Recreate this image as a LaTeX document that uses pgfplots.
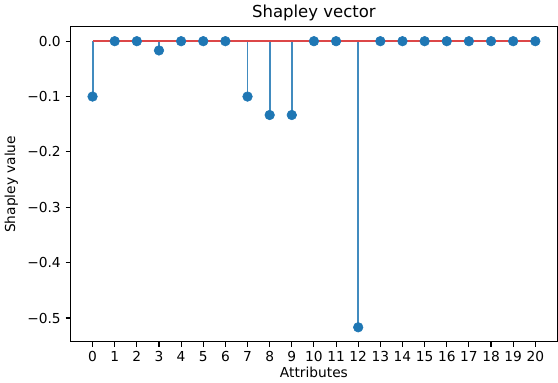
\documentclass[border=0pt]{standalone}
\usepackage{fontspec}
\setmainfont{DejaVu Sans}
\usepackage{pgfplots}
\pgfplotsset{compat=1.18}
\definecolor{mplblue}{HTML}{1F77B4}
\definecolor{mplred}{HTML}{D62728}

\begin{document}
\begin{tikzpicture}
\begin{axis}[
    scale only axis,
    width=354pt, height=229pt,
    xmin=-1, xmax=21,
    ymin=-0.543, ymax=0.026,
    xtick={0,1,...,20},
    ytick={-0.5,-0.4,-0.3,-0.2,-0.1,0},
    yticklabels={−0.5,−0.4,−0.3,−0.2,−0.1,0.0},
    xticklabel style={/pgf/number format/assume math mode=true},
    tick align=outside,
    tick pos=left,
    major tick length=3.5pt,
    axis line style={line width=0.8pt},
    every tick/.style={black, line width=0.8pt},
    title={Shapley vector},
    xlabel={Attributes},
    ylabel={Shapley value},
    tick label style={font=\normalsize},
    label style={font=\normalsize},
    title style={font=\large, yshift=-5pt},
    xlabel style={yshift=3pt},
]
\addplot[ycomb, mplblue!85, line width=1.4pt, no markers] coordinates {
    (0,-0.1) (1,0) (2,0) (3,-0.0167) (4,0) (5,0) (6,0) (7,-0.1)
    (8,-0.1333) (9,-0.1333) (10,0) (11,0) (12,-0.5167) (13,0) (14,0)
    (15,0) (16,0) (17,0) (18,0) (19,0) (20,0)
};
\addplot[only marks, mark=*, mark size=3.5pt, mplblue] coordinates {
    (0,-0.1) (1,0) (2,0) (3,-0.0167) (4,0) (5,0) (6,0) (7,-0.1)
    (8,-0.1333) (9,-0.1333) (10,0) (11,0) (12,-0.5167) (13,0) (14,0)
    (15,0) (16,0) (17,0) (18,0) (19,0) (20,0)
};
\addplot[mplred!85, line width=1.8pt, no markers] coordinates {(0,0) (20,0)};
\end{axis}
\end{tikzpicture}
\end{document}
